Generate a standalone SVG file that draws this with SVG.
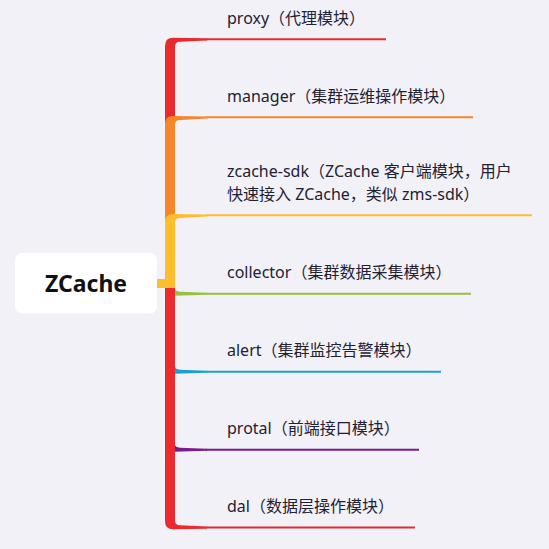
<svg xmlns="http://www.w3.org/2000/svg" width="549" height="549" viewBox="0 0 549 549">
<style>
.bg{fill:#F2F1F8}
.root{fill:#FFFFFF}
.rt{font-family:"Noto Sans","Noto Sans CJK SC",sans-serif;font-size:23px;font-weight:bold;fill:#111111}
.t{font-family:"Noto Sans","Noto Sans CJK SC",sans-serif;font-size:16px;fill:#1E2232}
.ln{fill:none;stroke-width:2}
.red{fill:#EA2A2E}.sred{stroke:#EA2A2E}
.org{fill:#F5862A}.sorg{stroke:#F5862A}
.yel{fill:#FDBE2D}.syel{stroke:#FDBE2D}
.grn{fill:#98BF3E}.sgrn{stroke:#98BF3E}
.blu{fill:#1DA0CE}.sblu{stroke:#1DA0CE}
.pur{fill:#7A1B8B}.spur{stroke:#7A1B8B}
</style>
<rect class="bg" x="0" y="0" width="549" height="549"/>
<g id="connectors">
  <!-- proxy -->
  <path class="red" d="M165 130 L165 46 Q165 37.7 173 37.7 L207 38.3 L207 40.5 L180 41.7 Q175 41.7 175 46.5 L175 130 Z"/>
  <line class="ln sred" x1="206" y1="39.3" x2="386" y2="39.3"/>
  <!-- manager -->
  <path class="org" d="M165 225 L165 124 Q165 116 173 116 L207 116.5 L207 118.5 L180 120 Q175 120 175 125 L175 225 Z"/>
  <line class="ln sorg" x1="206" y1="117.3" x2="473" y2="117.3"/>
  <!-- zcache-sdk -->
  <path class="yel" d="M165 288 L165 222 Q165 214 173 214 L207 214.5 L207 216.5 L180 218 Q175 218 175 223 L175 288 Z"/>
  <line class="ln syel" x1="206" y1="215.3" x2="532" y2="215.3"/>
  <rect class="yel" x="157" y="279" width="18" height="9"/>
  <!-- collector -->
  <path class="grn" d="M174 286.5 Q175 291.7 180 291.7 L207 292.7 L207 294.7 L174 295.7 Z"/>
  <line class="ln sgrn" x1="206" y1="293.7" x2="471" y2="293.7"/>
  <!-- alert -->
  <path class="blu" d="M174 364.5 Q175 369.7 180 369.7 L207 370.7 L207 372.7 L174 373.7 Z"/>
  <line class="ln sblu" x1="206" y1="371.7" x2="441" y2="371.7"/>
  <!-- protal -->
  <path class="pur" d="M174 442.5 Q175 447.7 180 447.7 L207 448.7 L207 450.7 L174 451.7 Z"/>
  <line class="ln spur" x1="206" y1="449.7" x2="419" y2="449.7"/>
  <!-- dal -->
  <path class="red" d="M165 288 L165 521 Q165 529.3 173 529.3 L207 528.7 L207 526.5 L180 525.3 Q175 525.3 175 520.5 L175 288 Z"/>
  <line class="ln sred" x1="206" y1="527.5" x2="415" y2="527.5"/>
</g>
<g id="root">
  <rect class="root" x="15" y="253" width="142" height="60.5" rx="7"/>
  <text class="rt" x="86" y="291.5" text-anchor="middle">ZCache</text>
</g>
<g id="proxy"><text class="t" x="227" y="23.5">proxy（代理模块）</text></g>
<g id="manager"><text class="t" x="227" y="101.5">manager（集群运维操作模块）</text></g>
<g id="zcache-sdk"><text class="t" x="227" y="176.5">zcache-sdk（ZCache 客户端模块，用户</text><text class="t" x="227" y="199.5">快速接入 ZCache，类似 zms-sdk）</text></g>
<g id="collector"><text class="t" x="227" y="277.7">collector（集群数据采集模块）</text></g>
<g id="alert"><text class="t" x="227" y="355.7">alert（集群监控告警模块）</text></g>
<g id="protal"><text class="t" x="227" y="433.7">protal（前端接口模块）</text></g>
<g id="dal"><text class="t" x="227" y="511.5">dal（数据层操作模块）</text></g>
</svg>
